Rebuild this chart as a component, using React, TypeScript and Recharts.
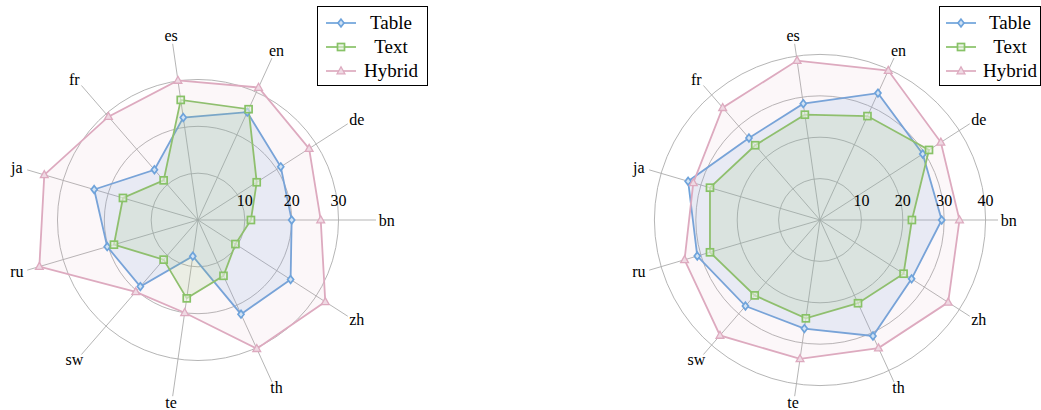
import React from 'react';
import { RadarChart, Radar, PolarGrid, PolarAngleAxis, PolarRadiusAxis } from 'recharts';

const languages = ['bn', 'de', 'en', 'es', 'fr', 'ja', 'ru', 'sw', 'te', 'th', 'zh'];
const leftTable = [20.0, 21.0, 25.3, 22.1, 14.2, 23.1, 20.2, 18.8, 7.8, 22.1, 23.5];
const leftText = [11.3, 14.9, 26.0, 25.9, 11.2, 16.7, 18.7, 11.2, 16.9, 13.1, 9.5];
const leftHybrid = [26.2, 28.2, 31.1, 30.1, 29.2, 34.2, 35.3, 20.3, 20.0, 30.2, 32.3];
const rightTable = [29.4, 29.5, 33.7, 28.4, 26.2, 33.2, 30.9, 27.5, 26.5, 30.8, 26.3];
const rightText = [22.2, 31.3, 27.6, 25.7, 23.9, 27.7, 27.7, 24.1, 24.0, 22.1, 24.0];
const rightHybrid = [33.7, 34.7, 39.7, 38.9, 35.9, 31.9, 34.1, 36.9, 33.9, 34.0, 36.8];
const leftTicks = [10, 20, 30];
const rightTicks = [10, 20, 30, 40];
const leftMax = 38;
const rightMax = 43;
const seriesNames = ['Table', 'Text', 'Hybrid'];

const FONT = '"Liberation Serif", "Times New Roman", serif';
const BLUE = '#6ea3db';
const GREEN = '#88c267';
const PINK = '#ddaabf';
const colors = [BLUE, GREEN, PINK];
const fillOpacities = [0.15, 0.15, 0.09];

// Categories run counter-clockwise from the right in the reference; Recharts lays them out
// clockwise, so the first category is kept first and the rest are listed in reverse.
const buildData = (t: number[], x: number[], h: number[]) => {
  const rows = languages.map((lang, i) => ({ lang, Table: t[i], Text: x[i], Hybrid: h[i] }));
  return [rows[0], ...rows.slice(1).reverse()];
};

const leftData = buildData(leftTable, leftText, leftHybrid);
const rightData = buildData(rightTable, rightText, rightHybrid);

const Diamond = ({ cx, cy, color }: any) => (
  <path d={`M${cx},${cy - 3.8} L${cx + 3},${cy} L${cx},${cy + 3.8} L${cx - 3},${cy} Z`} fill="#d3e3f4" stroke={color} strokeWidth={1.7} />
);
const Square = ({ cx, cy, color }: any) => (
  <rect x={cx - 3.5} y={cy - 3.5} width={7} height={7} fill="#e4efdc" fillOpacity={0.6} stroke={color} strokeWidth={1.7} />
);
const Triangle = ({ cx, cy, color }: any) => (
  <path d={`M${cx},${cy - 4.2} L${cx + 3.9},${cy + 2.8} L${cx - 3.9},${cy + 2.8} Z`} fill="#efd9e3" stroke={color} strokeWidth={1.3} />
);
const markers = [Diamond, Square, Triangle];

const AngleTick = (props: any) => {
  const { x, y, payload } = props;
  const a = (payload.coordinate * Math.PI) / 180;
  const c = Math.cos(a);
  const s = Math.sin(a);
  const bx = x - 6 * c;
  const by = y + 6 * s;
  const label = String(payload.value);
  const hw = label.length * 4.4;
  const hh = s < 0 ? 4.5 : 6.5;
  const tx = bx + c * hw;
  const ty = by - s * hh;
  return (
    <text x={tx} y={ty} textAnchor="middle" dominantBaseline="central" fontFamily={FONT} fontSize={16} fill="#000">
      {label}
    </text>
  );
};

const RadiusTick = (props: any) => {
  const { x, y, payload } = props;
  return (
    <text x={x} y={y - 20} textAnchor="middle" dominantBaseline="central" fontFamily={FONT} fontSize={16} fill="#000">
      {payload.value}
    </text>
  );
};

const LegendBox = ({ left, width, sampleLeft, textLeft, textWidth }: any) => (
  <div
    style={{
      position: 'absolute',
      left,
      top: 6,
      width,
      height: 80,
      border: '1px solid #000',
      boxSizing: 'border-box',
      background: '#fff',
      fontFamily: FONT,
      fontSize: 19,
    }}
  >
    {seriesNames.map((name, i) => {
      const M = markers[i];
      return (
        <div key={name} style={{ position: 'absolute', top: 4 + i * 24, left: 0, height: 24, width: '100%' }}>
          <svg width={32} height={24} style={{ position: 'absolute', left: sampleLeft, top: 0 }}>
            <line x1={1} y1={12} x2={31} y2={12} stroke={colors[i]} strokeWidth={1.7} />
            <M cx={16} cy={12} color={colors[i]} />
          </svg>
          <div style={{ position: 'absolute', left: textLeft, width: textWidth, top: 0, lineHeight: '24px', textAlign: 'center', color: '#000' }}>
            {name}
          </div>
        </div>
      );
    })}
  </div>
);

const Panel = ({ data, ticks, max }: any) => (
  <RadarChart
    width={440}
    height={410}
    data={data}
    cx={198}
    cy={220}
    outerRadius={178}
    startAngle={0}
    endAngle={-360}
    margin={{ top: 0, right: 0, bottom: 0, left: 0 }}
  >
    <PolarGrid gridType="circle" stroke="#adadad" strokeWidth={0.9} />
    <PolarAngleAxis dataKey="lang" tick={<AngleTick />} tickLine={false} axisLine={false} />
    <PolarRadiusAxis
      angle={0}
      type="number"
      domain={[0, max]}
      ticks={ticks}
      tick={<RadiusTick />}
      tickLine={false}
      axisLine={false}
      allowDataOverflow
    />
    {seriesNames.map((name, i) => {
      const M = markers[i];
      return (
        <Radar
          key={name}
          name={name}
          dataKey={name}
          stroke={colors[i]}
          strokeWidth={1.8}
          fill={colors[i]}
          fillOpacity={fillOpacities[i]}
          isAnimationActive={false}
          dot={(p: any) => <M key={`${name}-${p.index}`} cx={p.cx} cy={p.cy} color={colors[i]} />}
        />
      );
    })}
  </RadarChart>
);

export default function App() {
  return (
    <div style={{ position: 'fixed', left: 0, top: 0, width: 1041, height: 410, background: '#fff', overflow: 'hidden' }}>
      <div style={{ position: 'absolute', left: 0, top: 0 }}>
        <Panel data={leftData} ticks={leftTicks} max={leftMax} />
      </div>
      <div style={{ position: 'absolute', left: 622, top: 0 }}>
        <Panel data={rightData} ticks={rightTicks} max={rightMax} />
      </div>
      <LegendBox left={317} width={111} sampleLeft={7} textLeft={42} textWidth={62} />
      <LegendBox left={939} width={102} sampleLeft={5} textLeft={40} textWidth={60} />
    </div>
  );
}
